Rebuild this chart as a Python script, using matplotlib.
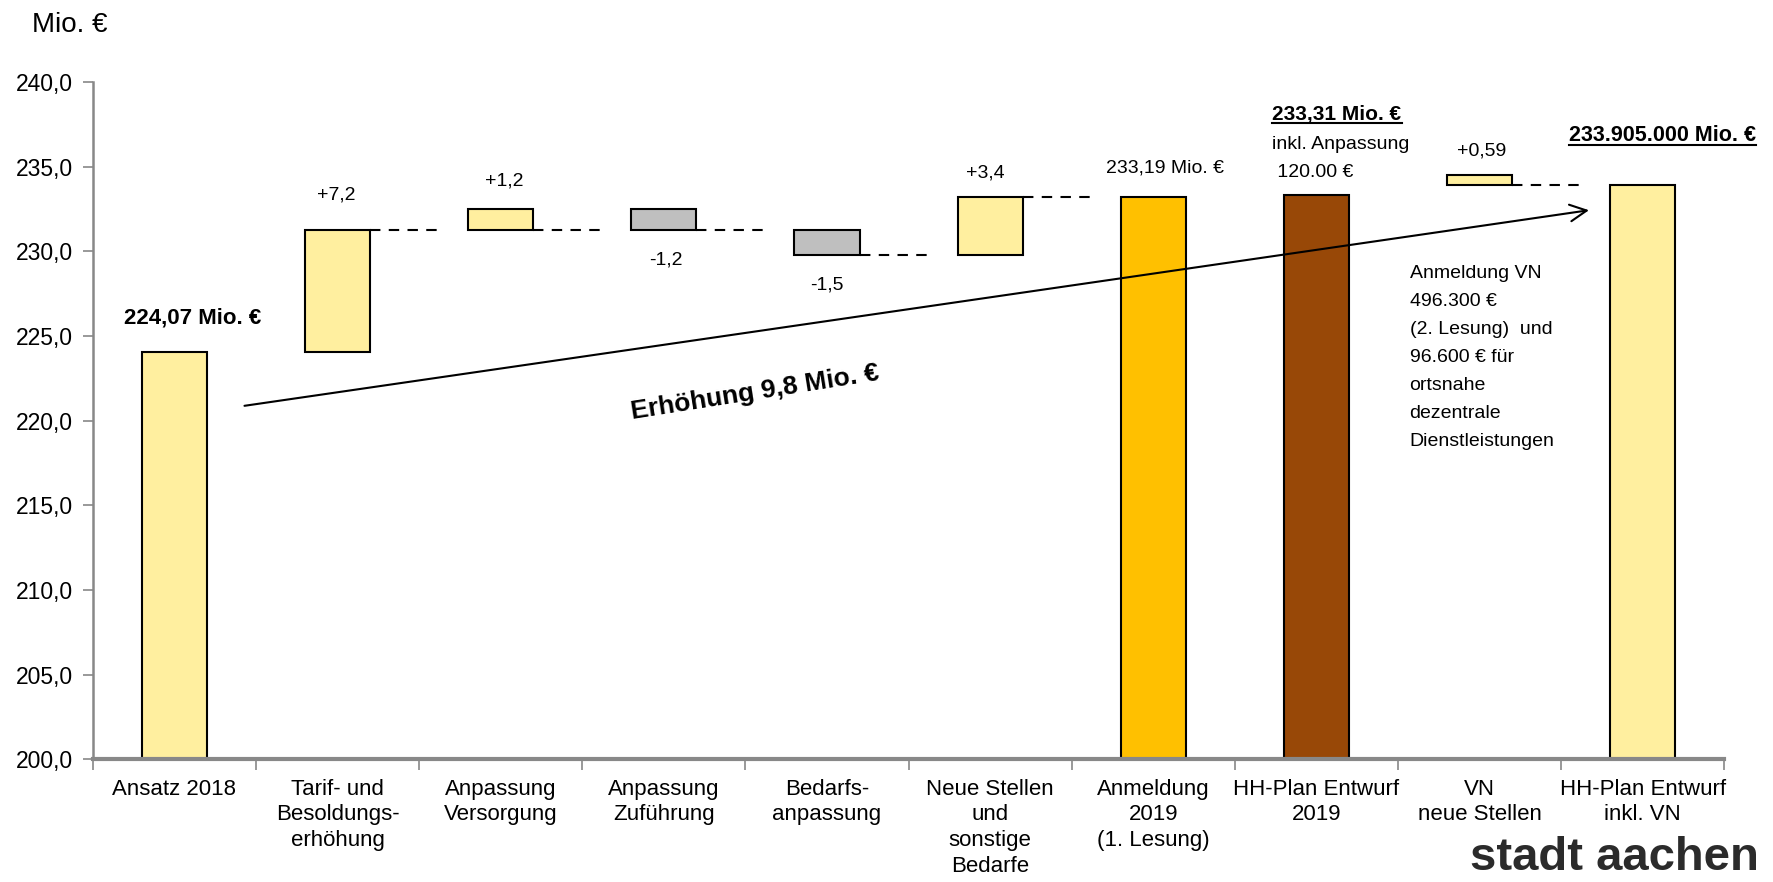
import matplotlib
matplotlib.use("Agg")
import matplotlib.pyplot as plt
from matplotlib.lines import Line2D

plt.rcParams['font.family'] = ['Liberation Sans Narrow', 'Liberation Sans', 'DejaVu Sans']

# ---- data ----
categories = ["Ansatz 2018", "Tarif- und\nBesoldungs-\nerhöhung", "Anpassung\nVersorgung",
              "Anpassung\nZuführung", "Bedarfs-\nanpassung", "Neue Stellen\nund\nsonstige\nBedarfe",
              "Anmeldung\n2019\n(1. Lesung)", "HH-Plan Entwurf\n2019", "VN\nneue Stellen",
              "HH-Plan Entwurf\ninkl. VN"]
bar_bottoms = [200.0, 224.07, 231.27, 231.27, 229.77, 229.79, 200.0, 200.0, 233.905, 200.0]
bar_tops    = [224.07, 231.27, 232.47, 232.47, 231.27, 233.19, 233.19, 233.31, 234.495, 233.905]
bar_colors  = ["#FFEF9F", "#FFEF9F", "#FFEF9F", "#BFBFBF", "#BFBFBF", "#FFEF9F",
               "#FFC000", "#984807", "#FFEF9F", "#FFEF9F"]
connector_idx    = [1, 2, 3, 4, 5, 8]
connector_levels = [231.27, 231.27, 231.27, 229.77, 233.19, 233.905]
value_labels = ["+7,2", "+1,2", "-1,2", "-1,5", "+3,4", "+0,59"]
value_label_x = [0.99, 2.02, 3.01, 4.0, 4.97, 8.01]
value_label_y = [233.29, 234.16, 229.46, 227.99, 234.63, 235.9]
yticks = [200, 205, 210, 215, 220, 225, 230, 235, 240]
ytick_labels = ["200,0", "205,0", "210,0", "215,0", "220,0", "225,0", "230,0", "235,0", "240,0"]
arrow_start = (0.43, 220.87)
arrow_end = (8.67, 232.42)

W, H = 17.73, 8.82
fig = plt.figure(figsize=(W, H), dpi=100)
ax = fig.add_axes([0.0523, 0.1392, 0.9203, 0.768])

x = list(range(len(categories)))
heights = [t - b for t, b in zip(bar_tops, bar_bottoms)]
ax.bar(x, heights, bottom=bar_bottoms, width=0.40, color=bar_colors,
       edgecolor="black", linewidth=1.5, zorder=3)

for i, lvl in zip(connector_idx, connector_levels):
    ax.plot([i + 0.2, i + 0.63], [lvl, lvl], color="black", lw=1.5,
            dashes=(5, 4), zorder=2)

for t, xx, yy in zip(value_labels, value_label_x, value_label_y):
    ax.text(xx, yy, t, ha="center", va="center", fontsize=14)

ax.text(0.11, 226.04, "224,07 Mio. €", ha="center", va="center", fontsize=16,
        fontweight="bold")
ax.text(6.07, 234.9, "233,19 Mio. €", ha="center", va="center", fontsize=14)
t1 = ax.text(6.73, 238.05, "233,31 Mio. €", ha="left", va="center", fontsize=15,
             fontweight="bold")
ax.text(6.73, 236.3, "inkl. Anpassung", ha="left", va="center", fontsize=14)
ax.text(6.73, 234.65, " 120.00 €", ha="left", va="center", fontsize=14)
t2 = ax.text(9.12, 236.85, "233.905.000 Mio. €", ha="center", va="center", fontsize=15.5,
             fontweight="bold", clip_on=False)
ax.text(7.57, 229.2, "Anmeldung VN\n496.300 €\n(2. Lesung)  und\n96.600 € für\nortsnahe\ndezentrale\nDienstleistungen",
        ha="left", va="top", fontsize=14, linespacing=1.85)

ax.annotate("", xy=arrow_end, xytext=arrow_start,
            arrowprops=dict(arrowstyle="->", lw=1.5, color="black", mutation_scale=30,
                            shrinkA=0, shrinkB=0), zorder=4)
ax.text(3.56, 221.68, "Erhöhung 9,8 Mio. €", ha="center", va="center", fontsize=19,
        fontweight="bold", rotation=9)

ax.set_xlim(-0.5, 9.5)
ax.set_ylim(200, 240)
ax.set_yticks(yticks)
ax.set_yticklabels(ytick_labels, fontsize=16.5)
ax.set_xticks([i - 0.5 for i in range(len(categories) + 1)])
ax.set_xticklabels([])
ax.set_xticks(x, minor=True)
ax.set_xticklabels(categories, minor=True, fontsize=16, linespacing=1.3)
ax.tick_params(axis="x", which="major", length=8, width=1.2, color="#888888", direction="out")
ax.tick_params(axis="x", which="minor", length=0, pad=14)
ax.tick_params(axis="y", length=7, width=1.2, color="#888888", direction="out", pad=7)
for s in ["top", "right"]:
    ax.spines[s].set_visible(False)
ax.spines["left"].set_color("#888888")
ax.spines["left"].set_linewidth(1.8)
ax.spines["bottom"].set_color("#888888")
ax.spines["bottom"].set_linewidth(3)
ax.spines["bottom"].set_zorder(5)

fig.text(0.018, 0.972, "Mio. €", ha="left", va="center", fontsize=20)
fig.text(0.829, 0.014, "stadt aachen", ha="left", va="baseline", fontsize=34,
         fontweight="bold", color="#2b2b2b")

# underline bold labels
fig.canvas.draw()
r = fig.canvas.get_renderer()
for t in (t1, t2):
    bb = t.get_window_extent(renderer=r)
    y0 = (bb.y0 + 1) / (H * 100)
    fig.add_artist(Line2D([bb.x0 / (W * 100), bb.x1 / (W * 100)], [y0, y0],
                          color="black", lw=1.5, transform=fig.transFigure))

fig.savefig("out.png", dpi=100)
